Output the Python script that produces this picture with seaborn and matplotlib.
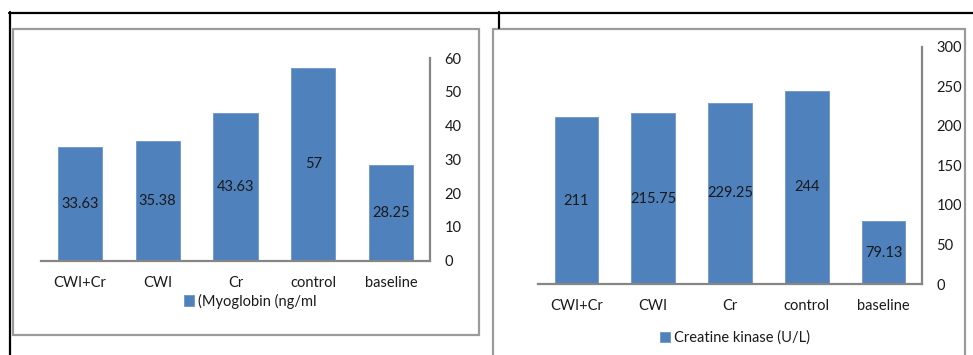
import matplotlib
matplotlib.use("Agg")
import matplotlib.pyplot as plt
from matplotlib.patches import Rectangle
from matplotlib.lines import Line2D
import seaborn as sns

categories = ["CWI+Cr", "CWI", "Cr", "control", "baseline"]
myoglobin = [33.63, 35.38, 43.63, 57, 28.25]
creatine_kinase = [211, 215.75, 229.25, 244, 79.13]
myo_ticks = [0, 10, 20, 30, 40, 50, 60]
ck_ticks = [0, 50, 100, 150, 200, 250, 300]
myo_label = "(Myoglobin (ng/ml"
ck_label = "Creatine kinase (U/L)"

sns.set_theme(style="white")
plt.rcParams["font.family"] = ["Lato", "DejaVu Sans"]

W, H = 973, 355
fig = plt.figure(figsize=(W / 100, H / 100), dpi=100)
fig.patch.set_facecolor("white")

BAR = "#4F81BD"
AXIS = "#868686"
FRAME = "#9B9B9B"
TXT = "#1a1a1a"
FS = 10.5


def fx(x):
    return x / W


def fy(y):
    return 1 - y / H


def px_axes(x0, y0, x1, y1):
    return fig.add_axes([fx(x0), fy(y1), fx(x1) - fx(x0), fy(y0) - fy(y1)])


# table rules and chart frames
ft = fig.transFigure
for (xs, ys) in [((9, W), (13, 13)), ((10, 10), (12, H)), ((499, 499), (12, 28))]:
    fig.add_artist(Line2D([fx(v) for v in xs], [fy(v) for v in ys],
                          transform=ft, color="black", lw=1.6))
for (x0, y0, x1, y1) in [(12.5, 29, 479, 335), (493.5, 29, 965, 370)]:
    fig.add_artist(Rectangle((fx(x0), fy(y1)), fx(x1) - fx(x0), fy(y0) - fy(y1),
                             transform=ft, fill=False, edgecolor=FRAME, lw=1.6))


def draw(ax, values, ticks, label, legend_xy):
    sns.barplot(x=categories, y=values, color=BAR, width=0.57, ax=ax,
                saturation=1, edgecolor="#6d94c9", linewidth=0.6, label=label)
    ax.set_xlim(-0.5, 4.5)
    ax.set_ylim(ticks[0], ticks[-1])
    ax.set_yticks(ticks)
    ax.yaxis.tick_right()
    ax.tick_params(axis="y", length=0, pad=10.5, labelsize=FS, labelcolor=TXT)
    ax.tick_params(axis="x", length=0, pad=11, labelsize=FS, labelcolor=TXT)
    for lbl in ax.get_yticklabels():
        lbl.set_horizontalalignment("left")
    ax.set_xlabel("")
    ax.set_ylabel("")
    ax.set_facecolor("none")
    for side in ["top", "left"]:
        ax.spines[side].set_visible(False)
    for side in ["bottom", "right"]:
        ax.spines[side].set_color(AXIS)
        ax.spines[side].set_linewidth(1.6)
    for i, v in enumerate(values):
        ax.text(i, v / 2, f"{v:g}", ha="center", va="center",
                fontsize=FS, color=TXT)
    ax.legend(loc="center", bbox_to_anchor=(fx(legend_xy[0]), fy(legend_xy[1])),
              bbox_transform=ft, frameon=False, fontsize=FS, handlelength=0.7,
              handleheight=0.7, handletextpad=0.25, labelcolor=TXT)


ax1 = px_axes(41, 58, 430, 260.7)
draw(ax1, myoglobin, myo_ticks, myo_label, (250, 301))

ax2 = px_axes(538, 46.7, 922, 284)
draw(ax2, creatine_kinase, ck_ticks, ck_label, (735, 338))

fig.savefig("out.png", dpi=100, facecolor="white")
